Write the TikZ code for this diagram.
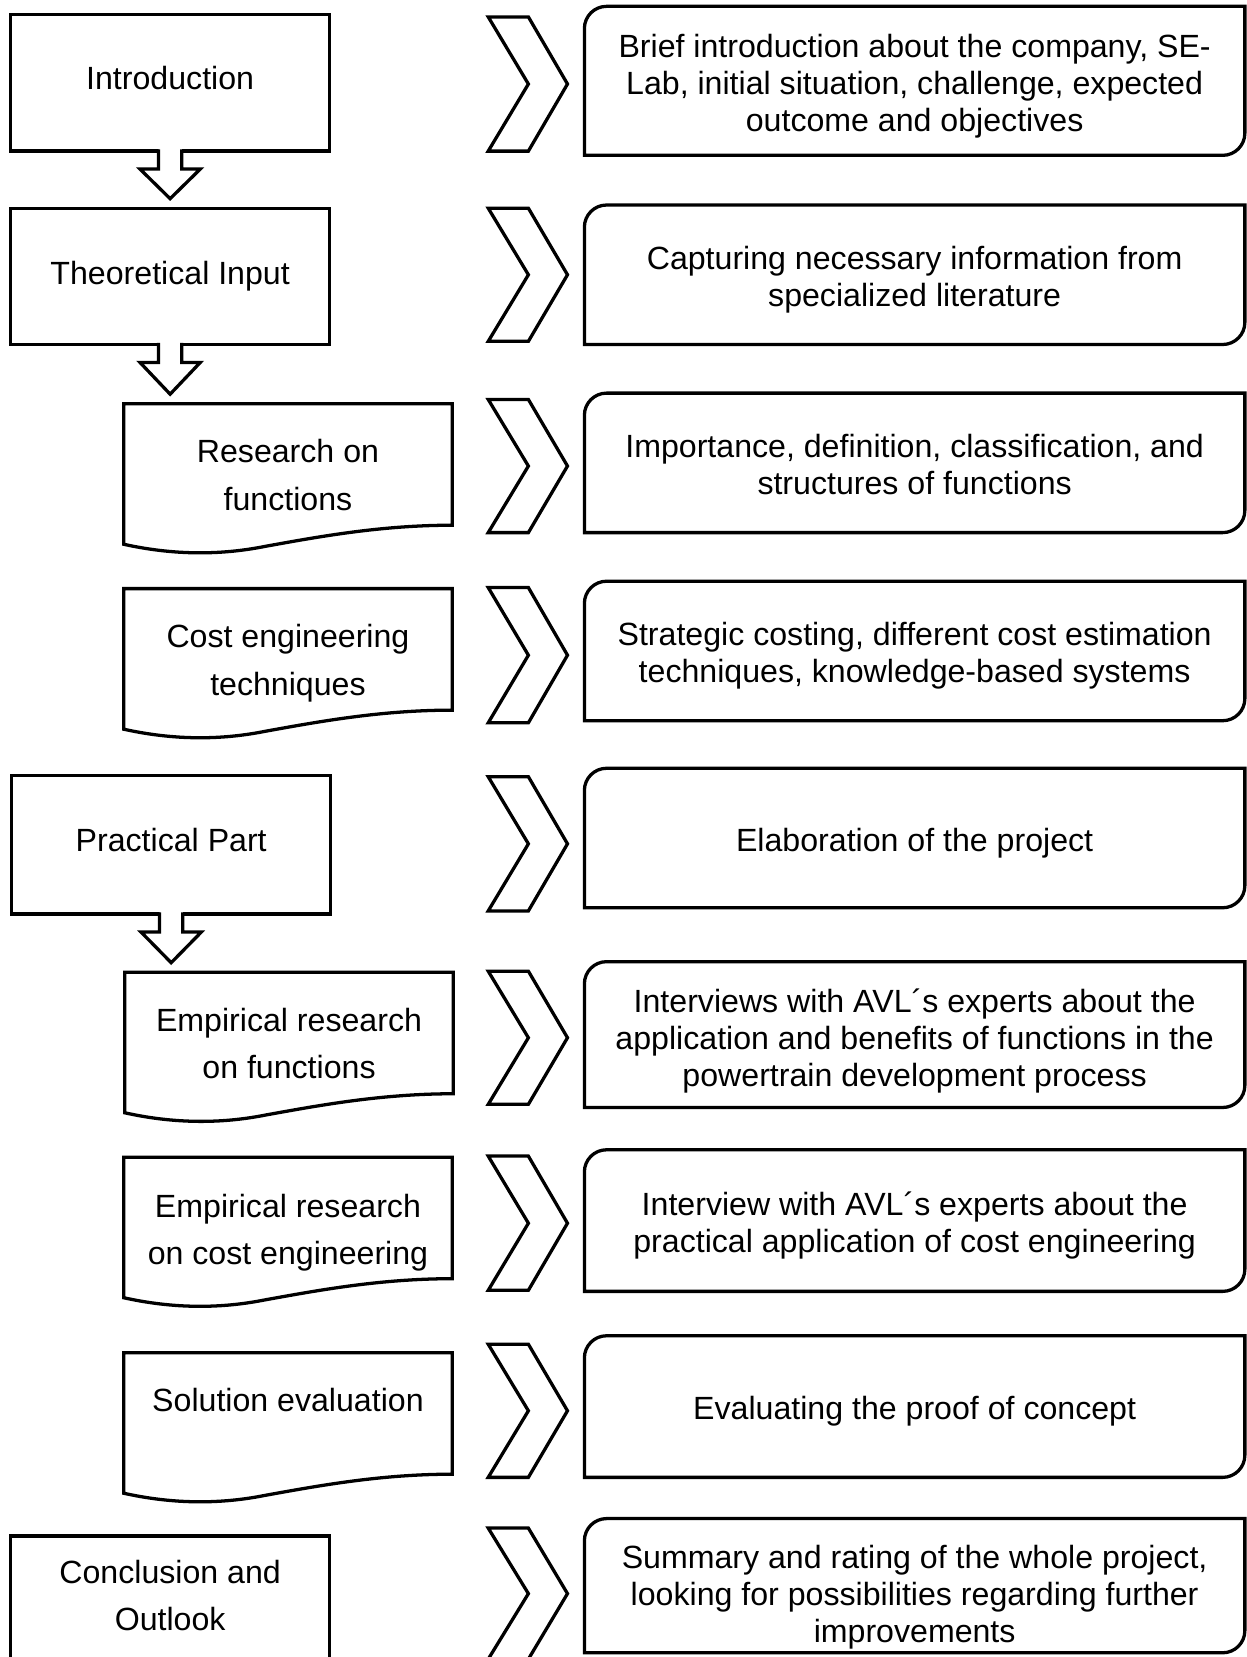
\documentclass[tikz,border=0pt]{standalone}
\usepackage{fontspec}
\setmainfont{Liberation Sans}
\usetikzlibrary{calc}

% text sizes: descriptions use tighter line spacing than the stage labels
\newcommand\diagfont{\fontsize{30.4pt}{35pt}\selectfont}
\newcommand\stagefont{\fontsize{30.4pt}{45pt}\selectfont}
% centred lines, shifted vertically without changing the reported box size
\newcommand\liftlines[2]{\raisebox{#1}[\height][\depth]{\begin{tabular}{@{}c@{}}#2\end{tabular}}}

\tikzset{
  outline/.style={line width=3.1pt, line join=miter, miter limit=10},
  every node/.style={font=\diagfont, inner sep=0pt, outer sep=0pt, align=center},
  stagebox/.style={draw, outline, minimum width=302pt, font=\stagefont},
  docbox/.style={minimum width=311pt, minimum height=141pt, font=\stagefont},
  descbox/.style={minimum width=625pt},
}

% document shape (wavy bottom edge) around a docbox node
\newcommand\docoutline[1]{%
  \draw[outline] (#1.north west) -- (#1.north east) -- ($(#1.north east)+(0,115)$)
    .. controls ($(#1.north west)+(243,115)$) and ($(#1.north west)+(184,126)$) .. ($(#1.north west)+(134,135)$)
    .. controls ($(#1.north west)+(99,142)$) and ($(#1.north west)+(54,145)$) .. ($(#1.north west)+(0,133)$)
    -- cycle;}

% description frame: rounded top-left and bottom-right corners
\newcommand\descoutline[1]{%
  \draw[outline] (#1.south west) -- ($(#1.north west)+(0,21)$)
    arc[start angle=180, end angle=90, radius=21pt]
    -- (#1.north east) -- ($(#1.south east)+(0,-21)$)
    arc[start angle=0, end angle=-90, radius=21pt]
    -- cycle;}

% chevron pointing right: top, middle, bottom
\newcommand\chevronmark[3]{%
  \draw[outline] (462,#1) -- (500,#1) -- (537,#2) -- (500,#3) -- (462,#3) -- (500,#2) -- cycle;}

% hollow block arrow from the bottom of one stage towards the next
\newcommand\blockdown[2]{%
  \fill[white] let \p1=(#1.south), \p2=(#1.south |- #2.north) in
    (\x1-11pt,\y1+2pt) -- (\x1-11pt,\y1-17pt) -- (\x1-28.5pt,\y1-17pt) -- (\x1,\y2+9pt)
    -- (\x1+28.5pt,\y1-17pt) -- (\x1+11pt,\y1-17pt) -- (\x1+11pt,\y1+2pt) -- cycle;
  \draw[outline] let \p1=(#1.south), \p2=(#1.south |- #2.north) in
    (\x1-11pt,\y1+1.55pt) -- (\x1-11pt,\y1-17pt) -- (\x1-28.5pt,\y1-17pt) -- (\x1,\y2+9pt)
    -- (\x1+28.5pt,\y1-17pt) -- (\x1+11pt,\y1-17pt) -- (\x1+11pt,\y1+1.55pt);}

\begin{document}
\begin{tikzpicture}[x=1pt,y=-1pt]
\useasboundingbox (0,0) rectangle (1180,1568);
\fill[white] (0,0) rectangle (1180,1568);

% stages
\node[stagebox, minimum height=129pt] (intro) at (161,78.5) {\liftlines{2.5pt}{Introduction}};
\node[stagebox, minimum height=129pt] (theory) at (161,261.5) {\liftlines{1.5pt}{Theoretical Input}};
\node[docbox] (research) at (272.5,452.5) {\liftlines{1pt}{Research on\\functions}};
\node[docbox] (costeng) at (272.5,627.5) {\liftlines{1pt}{Cost engineering\\techniques}};
\node[stagebox, minimum height=131pt] (practical) at (162,799.5) {\liftlines{2.5pt}{Practical Part}};
\node[docbox] (empfunc) at (273.5,990.5) {\liftlines{1pt}{Empirical research\\on functions}};
\node[docbox] (empcost) at (272.5,1165.5) {\liftlines{0pt}{Empirical research\\on cost engineering}};
\node[docbox] (solution) at (272.5,1350.5) {\liftlines{23.5pt}{Solution evaluation}};
\node[stagebox, minimum height=130pt] (conclusion) at (161,1518.5) {\liftlines{7pt}{Conclusion and\\Outlook}};

\docoutline{research}
\docoutline{costeng}
\docoutline{empfunc}
\docoutline{empcost}
\docoutline{solution}

% descriptions
\node[descbox, minimum height=141pt] (desc1) at (865.5,76.5)
  {\liftlines{-5.5pt}{Brief introduction about the company, SE-\\Lab, initial situation, challenge, expected\\outcome and objectives}};
\node[descbox, minimum height=132pt] (desc2) at (865.5,260)
  {\liftlines{-5.5pt}{Capturing necessary information from\\specialized literature}};
\node[descbox, minimum height=132pt] (desc3) at (865.5,438)
  {\liftlines{-5.5pt}{Importance, definition, classification, and\\structures of functions}};
\node[descbox, minimum height=132pt] (desc4) at (865.5,616)
  {\liftlines{-5.5pt}{Strategic costing, different cost estimation\\techniques, knowledge-based systems}};
\node[descbox, minimum height=132pt] (desc5) at (865.5,793)
  {\liftlines{-6pt}{Elaboration of the project}};
\node[descbox, minimum height=138pt] (desc6) at (865.5,979)
  {\liftlines{-7pt}{Interviews with AVL´s experts about the\\application and benefits of functions in the\\powertrain development process}};
\node[descbox, minimum height=134pt] (desc7) at (865.5,1155)
  {\liftlines{-5.5pt}{Interview with AVL´s experts about the\\practical application of cost engineering}};
\node[descbox, minimum height=134pt] (desc8) at (865.5,1331)
  {\liftlines{-5pt}{Evaluating the proof of concept}};
\node[descbox, minimum height=127pt] (desc9) at (865.5,1500.5)
  {\liftlines{-12pt}{Summary and rating of the whole project,\\looking for possibilities regarding further\\improvements}};

\foreach \d in {desc1,desc2,desc3,desc4,desc5,desc6,desc7,desc8,desc9}
  {\descoutline{\d}}

% chevrons between stages and descriptions
\chevronmark{16}{79.5}{143}
\chevronmark{197}{260}{323}
\chevronmark{378}{441}{504}
\chevronmark{556}{620}{684}
\chevronmark{735}{798.5}{862}
\chevronmark{919}{982}{1045}
\chevronmark{1094}{1157.5}{1221}
\chevronmark{1272}{1335}{1398}
\chevronmark{1446}{1508}{1570}

% flow between stages
\blockdown{intro}{theory}
\blockdown{theory}{research}
\blockdown{practical}{empfunc}
\end{tikzpicture}
\end{document}
